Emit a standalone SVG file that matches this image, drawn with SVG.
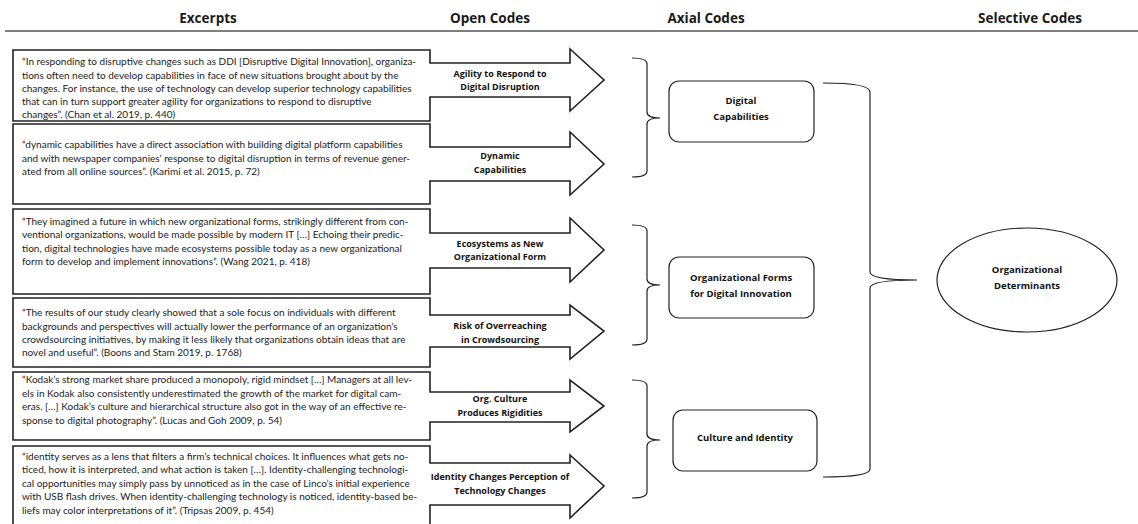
<svg xmlns="http://www.w3.org/2000/svg" width="1138" height="524" viewBox="0 0 1138 524">
  <style>
    .hdr { font-family: "Open Sans", "Liberation Sans", sans-serif; font-weight: 700; font-size: 13.5px; fill: #1a1a1a; text-anchor: middle; }
    .ex { font-family: Lato, "Liberation Sans", sans-serif; font-size: 10px; fill: #222; }
    .lbl { font-family: "Open Sans", "Liberation Sans", sans-serif; font-weight: 700; font-size: 9px; fill: #111; text-anchor: middle; }
    .call { fill: #fff; stroke: #222; stroke-width: 1.6; }
    .node { fill: #fff; stroke: #222; stroke-width: 1.2; }
    .brace { fill: none; stroke: #222; stroke-width: 1.2; }
    .ntxt { font-family: "Open Sans", "Liberation Sans", sans-serif; font-weight: 700; font-size: 9.5px; fill: #111; text-anchor: middle; }
  </style>
  <rect width="1138" height="524" fill="#fff"/>

  <!-- column headings -->
  <g id="headings">
    <text class="hdr" x="208" y="23">Excerpts</text>
    <text class="hdr" x="490" y="23">Open Codes</text>
    <text class="hdr" x="706" y="23">Axial Codes</text>
    <text class="hdr" x="1030" y="23">Selective Codes</text>
    <line x1="5" y1="31" x2="1138" y2="31" stroke="#555" stroke-width="1.4"/>
  </g>

  <!-- excerpt callouts: box with an arrow carrying the open code -->
  <g id="excerpt1">
    <path class="call" d="M13,50 H430 V63 H570 V49 L604,80 L570,111 V97 H430 V121 H13 Z"/>
    <text class="ex" x="22" y="65">“In responding to disruptive changes such as DDI [Disruptive Digital Innovation], organiza-</text>
    <text class="ex" x="22" y="78.5">tions often need to develop capabilities in face of new situations brought about by the</text>
    <text class="ex" x="22" y="92">changes. For instance, the use of technology can develop superior technology capabilities</text>
    <text class="ex" x="22" y="105">that can in turn support greater agility for organizations to respond to disruptive</text>
    <text class="ex" x="22" y="118">changes”. (Chan et al. 2019, p. 440)</text>
    <text class="lbl" x="500" y="76.5">Agility to Respond to</text>
    <text class="lbl" x="500" y="90">Digital Disruption</text>
  </g>
  <g id="excerpt2">
    <path class="call" d="M13,124 H430 V147 H570 V132 L604,164 L570,195 V181 H430 V204 H13 Z"/>
    <text class="ex" x="22" y="148">“dynamic capabilities have a direct association with building digital platform capabilities</text>
    <text class="ex" x="22" y="162">and with newspaper companies’ response to digital disruption in terms of revenue gener-</text>
    <text class="ex" x="22" y="175">ated from all online sources”. (Karimi et al. 2015, p. 72)</text>
    <text class="lbl" x="500" y="159">Dynamic</text>
    <text class="lbl" x="500" y="172.5">Capabilities</text>
  </g>
  <g id="excerpt3">
    <path class="call" d="M13,209 H430 V233 H570 V218 L604,250 L570,282 V268 H430 V294 H13 Z"/>
    <text class="ex" x="22" y="225">“They imagined a future in which new organizational forms, strikingly different from con-</text>
    <text class="ex" x="22" y="238">ventional organizations, would be made possible by modern IT […] Echoing their predic-</text>
    <text class="ex" x="22" y="252">tion, digital technologies have made ecosystems possible today as a new organizational</text>
    <text class="ex" x="22" y="265">form to develop and implement innovations”. (Wang 2021, p. 418)</text>
    <text class="lbl" x="500" y="246.5">Ecosystems as New</text>
    <text class="lbl" x="500" y="260">Organizational Form</text>
  </g>
  <g id="excerpt4">
    <path class="call" d="M13,298 H430 V315 H570 V305 L604,331 L570,359 V347 H430 V367 H13 Z"/>
    <text class="ex" x="22" y="316">“The results of our study clearly showed that a sole focus on individuals with different</text>
    <text class="ex" x="22" y="330">backgrounds and perspectives will actually lower the performance of an organization’s</text>
    <text class="ex" x="22" y="343">crowdsourcing initiatives, by making it less likely that organizations obtain ideas that are</text>
    <text class="ex" x="22" y="356">novel and useful”. (Boons and Stam 2019, p. 1768)</text>
    <text class="lbl" x="500" y="329">Risk of Overreaching</text>
    <text class="lbl" x="500" y="342.5">in Crowdsourcing</text>
  </g>
  <g id="excerpt5">
    <path class="call" d="M13,372 H430 V392 H570 V380 L604,406 L570,432 V422 H430 V440 H13 Z"/>
    <text class="ex" x="22" y="383">“Kodak’s strong market share produced a monopoly, rigid mindset […] Managers at all lev-</text>
    <text class="ex" x="22" y="397">els in Kodak also consistently underestimated the growth of the market for digital cam-</text>
    <text class="ex" x="22" y="410">eras. […] Kodak’s culture and hierarchical structure also got in the way of an effective re-</text>
    <text class="ex" x="22" y="424">sponse to digital photography”. (Lucas and Goh 2009, p. 54)</text>
    <text class="lbl" x="500" y="402">Org. Culture</text>
    <text class="lbl" x="500" y="416">Produces Rigidities</text>
  </g>
  <g id="excerpt6">
    <path class="call" d="M13,446 H430 V463 H570 V455 L604,486 L570,518 V505 H430 V530 H13 Z"/>
    <text class="ex" x="22" y="460">“identity serves as a lens that filters a firm’s technical choices. It influences what gets no-</text>
    <text class="ex" x="22" y="473">ticed, how it is interpreted, and what action is taken […]. Identity-challenging technologi-</text>
    <text class="ex" x="22" y="487">cal opportunities may simply pass by unnoticed as in the case of Linco’s initial experience</text>
    <text class="ex" x="22" y="500">with USB flash drives. When identity-challenging technology is noticed, identity-based be-</text>
    <text class="ex" x="22" y="514">liefs may color interpretations of it”. (Tripsas 2009, p. 454)</text>
    <text class="lbl" x="500" y="480">Identity Changes Perception of</text>
    <text class="lbl" x="500" y="494">Technology Changes</text>
  </g>

  <!-- axial codes -->
  <g id="axial1">
    <rect class="node" x="669" y="81" width="145" height="61" rx="10"/>
    <text class="ntxt" x="741" y="104">Digital</text>
    <text class="ntxt" x="741" y="120">Capabilities</text>
  </g>
  <g id="axial2">
    <rect class="node" x="669" y="257" width="145" height="61" rx="10"/>
    <text class="ntxt" x="741" y="281">Organizational Forms</text>
    <text class="ntxt" x="741" y="297">for Digital Innovation</text>
  </g>
  <g id="axial3">
    <rect class="node" x="673" y="410" width="144" height="61" rx="10"/>
    <text class="ntxt" x="745" y="441">Culture and Identity</text>
  </g>

  <!-- selective code -->
  <g id="selective">
    <ellipse class="node" cx="1027" cy="280" rx="90" ry="52"/>
    <text class="ntxt" x="1027" y="273">Organizational</text>
    <text class="ntxt" x="1027" y="289">Determinants</text>
  </g>

  <!-- grouping braces -->
  <g id="connectors">
    <path class="brace" d="M632,58 Q647,58 647,64 V112 Q647,118 660,118 Q647,118 647,124 V171 Q647,177 632,177"/>
    <path class="brace" d="M632,225 Q647,225 647,231 V279 Q647,285 660,285 Q647,285 647,291 V339 Q647,345 632,345"/>
    <path class="brace" d="M632,380 Q647,380 647,386 V434 Q647,440 660,440 Q647,440 647,446 V492 Q647,498 632,498"/>
    <path class="brace" d="M823,83 Q870,83 870,92 V272 Q870,280 917,280 Q870,280 870,288 V469 Q870,477 823,477"/>
  </g>
</svg>
